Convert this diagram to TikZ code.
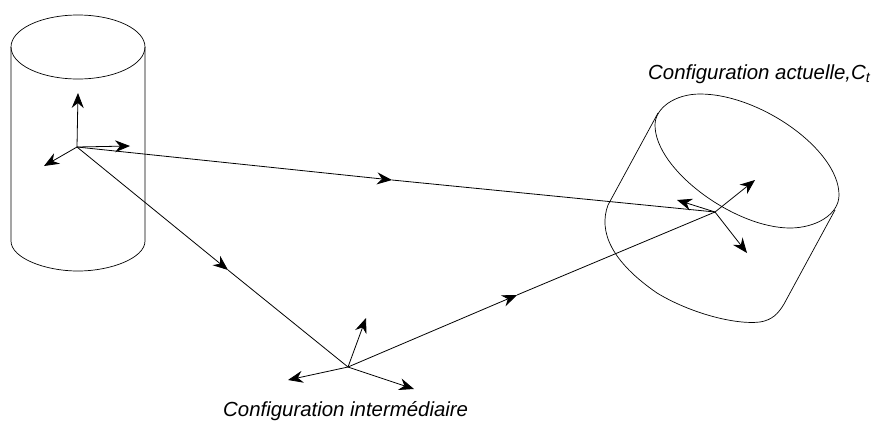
\documentclass[tikz,border=0pt]{standalone}
\usepackage{fontspec}
\setmainfont{Liberation Sans}
\usetikzlibrary{arrows.meta}

\begin{document}
\begin{tikzpicture}[x=1pt,y=-1pt,>={Stealth[length=15pt,width=12pt,inset=5pt]},
  axis/.style={line width=0.8pt,->}, edge/.style={line width=0.8pt},
  solid outline/.style={line width=0.7pt},
  note/.style={font=\itshape\fontsize{20.4}{23}\selectfont,inner sep=0pt,anchor=base west}]
  \useasboundingbox (0,0) rectangle (874,421);

  % fixed cylinder
  \draw[solid outline] (78,47) ellipse (67 and 32);
  \draw[solid outline] (11,47)--(11,241) .. controls (11,258) and (45,271) .. (78,271)
    .. controls (111,271) and (145,258) .. (145,241)--(145,47);

  % current cylinder
  \draw[solid outline] (655,125) .. controls (655,108) and (675,94) .. (700,94)
    .. controls (760,94) and (839,150) .. (839,195)
    .. controls (839,215) and (815,228) .. (790,228)
    .. controls (735,228) and (655,170) .. (655,125)--cycle;
  \draw[solid outline] (658,113)--(608,205) .. controls (598,232) and (612,262) .. (657,293)
    .. controls (690,313) and (735,325) .. (760,322)
    .. controls (772,320) and (778,314) .. (784,304)--(835,210);

  % frames
  \coordinate (refO) at (77,147);
  \coordinate (interO) at (348,367);
  \coordinate (curO) at (715,212);
  \foreach \n/\p in {refA/{78,93},refB/{130,146},refC/{44,166},
    interA/{366,318},interB/{288,380},interC/{414,389},
    curA/{755,180},curB/{677,200},curC/{747,253},
    midA/{392,180},midB/{228,270},midC/{517,295}}
    {\coordinate (\n) at (\p);}
  \draw[axis] (refO)--(refA);
  \draw[axis] (refO)--(refB);
  \draw[axis] (refO)--(refC);
  \draw[axis] (interO)--(interA);
  \draw[axis] (interO)--(interB);
  \draw[axis] (interO)--(interC);
  \draw[axis] (curO)--(curA);
  \draw[axis] (curO)--(curB);
  \draw[axis] (curO)--(curC);

  % transformations
  \draw[axis] (refO)--(midA);
  \draw[edge] (midA)--(curO);
  \draw[axis] (refO)--(midB);
  \draw[edge] (midB)--(interO);
  \draw[axis] (interO)--(midC);
  \draw[edge] (midC)--(curO);

  \node[note] (interLabel) at (223,416) {Configuration intermédiaire};
  \node[note] (curLabel) at (648,79) {Configuration actuelle,C\textsubscript{t}};
\end{tikzpicture}
\end{document}
